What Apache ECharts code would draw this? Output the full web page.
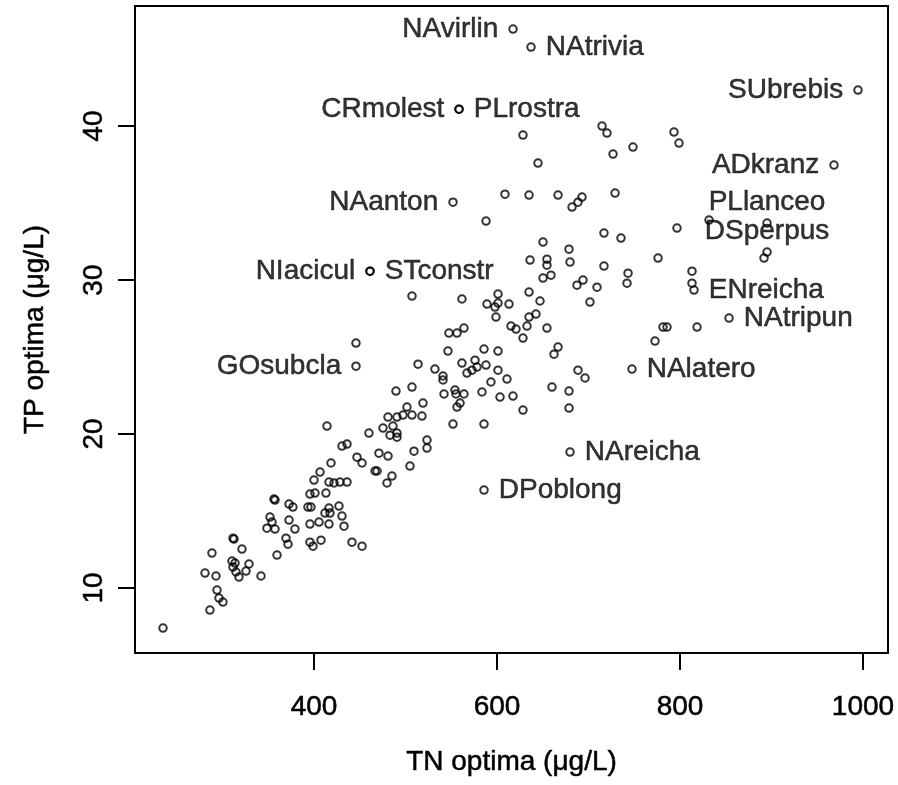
<!DOCTYPE html>
<html><head><meta charset="utf-8">
<script src="https://cdn.jsdelivr.net/npm/echarts@6/dist/echarts.min.js"></script>
<style>html,body{margin:0;padding:0;background:#fff}#c{width:898px;height:785px}</style>
</head><body><div id="c"></div>
<script>
// Unlabelled taxa: TN optima (µg/L) and TP optima (µg/L)
const tnOptima = [628.4,644.8,714.8,720.2,726.8,748.6,793.4,798.9,588.0,608.7,635.0,666.7,682.0,688.5,692.9,729.0,796.7,716.9,735.5,650.3,678.7,679.8,636.1,654.6,654.6,650.3,659.0,716.9,743.2,742.1,776.0,813.1,813.1,687.4,694.0,709.3,831.7,891.8,818.6,781.4,785.8,
507.1,561.7,589.1,597.8,601.1,601.1,613.1,598.9,635.0,647.0,635.0,642.6,615.3,620.8,632.8,628.4,654.6,701.6,666.7,662.3,688.5,696.2,660.1,678.7,678.7,628.4,772.7,547.5,556.3,563.9,546.4,585.8,601.1,561.7,576.0,588.0,578.1,572.7,567.2,601.1,610.9,593.4,583.6,603.3,617.5,585.8,551.9,513.7,532.2,541.0,541.0,542.1,554.1,555.2,563.9,559.6,556.3,519.1,
445.9,489.6,507.1,501.6,480.9,490.7,497.3,507.1,518.0,475.4,486.3,483.1,490.7,490.7,460.1,414.2,523.5,523.5,509.3,504.9,471.0,480.9,447.0,452.5,466.7,468.9,485.2,479.8,430.6,436.1,418.6,406.6,400.0,416.4,421.9,428.4,436.1,413.1,395.6,401.1,393.4,396.7,416.4,412.0,417.5,427.3,430.6,416.4,432.8,405.5,395.6,395.6,398.9,407.7,441.5,452.5,372.7,377.0,372.7,379.2,356.3,357.4,351.9,354.1,348.6,357.4,369.4,371.6,359.6,311.5,312.6,321.3,310.4,313.7,311.5,314.8,329.0,325.7,318.0,342.1,288.5,280.9,292.9,294.0,296.2,300.5,286.3,235.0];
const tpOptima = [39.42,37.60,40.00,39.55,38.18,38.64,39.61,38.90,33.83,35.58,35.52,35.52,34.74,35.06,35.39,35.65,33.38,33.05,32.73,32.47,32.01,31.17,31.30,31.36,30.97,30.13,30.32,30.91,30.45,29.80,31.43,30.58,29.80,29.67,30.00,29.54,33.90,31.43,26.95,26.95,26.95,
28.96,28.77,28.44,28.25,28.51,29.09,28.44,27.60,29.22,28.64,27.60,27.79,27.01,26.82,27.01,26.23,26.88,28.57,25.65,25.19,24.15,23.64,23.05,22.79,21.69,21.56,26.04,26.56,26.56,26.88,25.39,25.52,25.39,24.61,24.80,24.48,24.35,24.15,23.96,24.15,23.57,23.38,22.73,22.40,22.47,20.65,20.65,24.54,24.22,23.77,23.51,22.60,22.86,22.60,22.60,22.01,21.75,22.01,
25.91,22.79,23.05,21.75,21.10,21.10,21.23,21.23,21.17,20.39,20.52,19.93,20.06,19.80,20.06,20.52,19.61,19.09,18.89,17.92,18.76,18.57,18.50,18.12,17.60,17.60,17.27,16.82,19.22,19.35,18.12,17.53,17.01,16.88,16.82,16.88,16.88,16.17,16.10,16.17,15.26,15.26,15.19,14.87,14.87,15.32,14.67,14.15,14.02,14.28,14.15,12.98,12.72,13.11,12.98,12.72,15.45,15.26,14.41,13.83,15.78,15.71,14.61,14.28,13.89,13.83,13.24,12.85,12.14,13.24,13.18,12.53,11.75,11.62,11.36,11.04,11.56,11.10,10.71,10.78,12.27,10.97,10.78,9.87,9.35,9.09,8.57,7.40];

// Labelled taxa
const taxonNames = ["NAvirlin","NAtrivia","CRmolest","PLrostra","NAanton","NIacicul","STconstr","GOsubcla","DPoblong","NAreicha","NAlatero","SUbrebis","ADkranz","PLlanceo","DSperpus","ENreicha","NAtripun"];
const taxonTN = [617.5,637.2,558.5,558.5,551.9,461.2,461.2,445.9,585.8,679.8,747.5,994.5,968.3,895.1,895.1,815.3,853.6];
const taxonTP = [46.30,45.13,41.10,41.10,35.06,30.58,30.58,24.41,16.36,18.83,24.22,42.34,37.47,33.70,31.82,29.35,27.53];

const xTicks = [400,600,800,1000];
const yTicks = [10,20,30,40];

// label placement (presentation only)
const labelSide = {NAvirlin:'left',NAtrivia:'right',CRmolest:'left',PLrostra:'right',NAanton:'left',NIacicul:'left',STconstr:'right',GOsubcla:'left',DPoblong:'right',NAreicha:'right',NAlatero:'right',SUbrebis:'left',ADkranz:'left',PLlanceo:'top',DSperpus:'top',ENreicha:'right',NAtripun:'right'};

const FONT = "'Liberation Sans', Arial, Helvetica, sans-serif";
const FS = 28;
const txt = {fontFamily:FONT,fontSize:FS,color:'#000',textBorderColor:'#000',textBorderWidth:0.5};

const plain = tnOptima.map((x,i)=>[x,tpOptima[i]]);
const labelled = taxonNames.map((n,i)=>{
  const side = labelSide[n];
  return {name:n, value:[taxonTN[i],taxonTP[i]],
    label:{show:true, position:side, distance: side==='top'?2:10}};
});

const pointStyle = {color:'rgba(0,0,0,0)', borderColor:'#000', borderWidth:2};

const chart = echarts.init(document.getElementById('c'), null, {renderer:'canvas'});
chart.setOption({
  animation:false,
  backgroundColor:'#fff',
  grid:{left:135,right:10,top:6,bottom:132,show:true,borderColor:'#000',borderWidth:2,containLabel:false},
  xAxis:{type:'value',min:204.4,max:1027.3,
    name:'TN optima (μg/L)',nameLocation:'middle',nameGap:95,
    nameTextStyle:txt,
    axisLine:{show:false},splitLine:{show:false},
    axisTick:{show:true,inside:false,length:17,customValues:xTicks,lineStyle:{color:'#000',width:2}},
    axisLabel:Object.assign({customValues:xTicks,margin:40,formatter:v=>String(v)},txt)},
  yAxis:{type:'value',min:5.78,max:47.8,
    name:'TP optima (μg/L)',nameLocation:'middle',nameGap:86,nameRotate:90,
    nameTextStyle:txt,
    axisLine:{show:false},splitLine:{show:false},
    axisTick:{show:true,inside:false,length:17,customValues:yTicks,lineStyle:{color:'#000',width:2}},
    axisLabel:Object.assign({customValues:yTicks,rotate:90,margin:27,formatter:v=>String(v)},txt)},
  series:[
    {type:'scatter',data:plain,symbol:'circle',symbolSize:7.5,itemStyle:pointStyle,silent:true},
    {type:'scatter',data:labelled,symbol:'circle',symbolSize:7.5,itemStyle:pointStyle,silent:true,
      label:Object.assign({show:true,formatter:'{b}'},txt),
      labelLayout:{hideOverlap:false}}
  ]
});
</script></body></html>
